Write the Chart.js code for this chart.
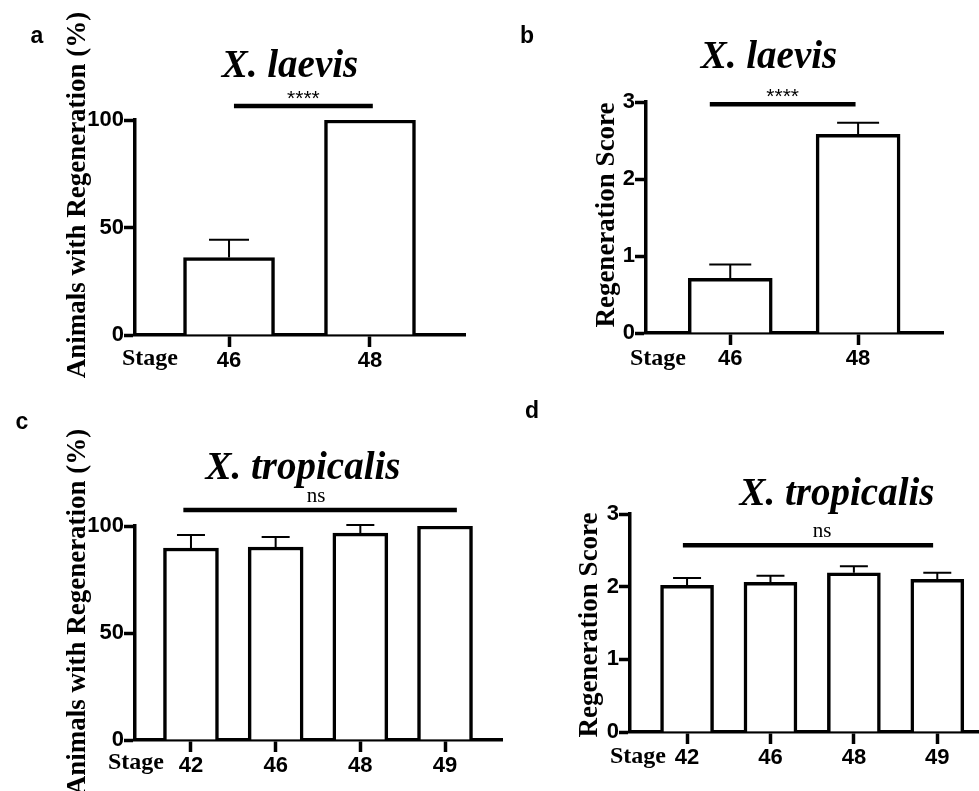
<!DOCTYPE html>
<html>
<head>
<meta charset="utf-8">
<script src="https://cdn.jsdelivr.net/npm/chart.js@4.4.0/dist/chart.umd.min.js"></script>
<style>
    html, body { margin: 0; padding: 0; background: #fff; }
    #fig { position: relative; width: 979px; height: 791px; overflow: hidden; }
    .panel { position: absolute; }
</style>
</head>
<body>
<div id="fig">
    <div class="panel" style="left:0;top:0"><canvas id="ca" width="490" height="390"></canvas></div>
    <div class="panel" style="left:490px;top:0"><canvas id="cb" width="489" height="390"></canvas></div>
    <div class="panel" style="left:0;top:390px"><canvas id="cc" width="510" height="401"></canvas></div>
    <div class="panel" style="left:490px;top:390px"><canvas id="cd" width="489" height="401"></canvas></div>
</div>
<script>
// data
const laevisStages = ['46', '48'];
const laevisPct = [36, 100];
const laevisPctErr = [8.3, 0];
const laevisScore = [0.71, 2.58];
const laevisScoreErr = [0.18, 0.15];

const tropStages = ['42', '46', '48', '49'];
const tropPct = [89.7, 90.2, 96.7, 100];
const tropPctErr = [6.1, 4.7, 3.8, 0];
const tropScore = [2.02, 2.06, 2.19, 2.10];
const tropScoreErr = [0.10, 0.09, 0.09, 0.09];

const pctTicks = [0, 50, 100];
const scoreTicks = [0, 1, 2, 3];

const SANS = '"Liberation Sans", Arial, sans-serif';
const SERIF = '"Liberation Serif", "Times New Roman", serif';

// error bars (up only) + significance bar
const errorBarPlugin = {
    id: 'errorBars',
    afterDatasetsDraw(chart, args, opts) {
        const ctx = chart.ctx;
        const y = chart.scales.y;
        const x = chart.scales.x;
        const meta = chart.getDatasetMeta(0);
        const vals = chart.data.datasets[0].data;
        ctx.save();
        ctx.strokeStyle = '#000';
        ctx.lineWidth = 2;
        opts.err.forEach((e, i) => {
            if (!e) return;
            const bx = meta.data[i].x;
            const top = y.getPixelForValue(vals[i].y);
            const et = y.getPixelForValue(vals[i].y + e);
            ctx.beginPath();
            ctx.moveTo(bx, top);
            ctx.lineTo(bx, et);
            ctx.moveTo(bx - opts.cap / 2, et);
            ctx.lineTo(bx + opts.cap / 2, et);
            ctx.stroke();
        });
        // significance
        const s = opts.sig;
        const sy = y.getPixelForValue(s.y);
        const x1 = x.getPixelForValue(s.from);
        const x2 = x.getPixelForValue(s.to);
        ctx.lineWidth = 4.5;
        ctx.beginPath();
        ctx.moveTo(x1, sy);
        ctx.lineTo(x2, sy);
        ctx.stroke();
        ctx.fillStyle = '#000';
        ctx.textAlign = 'center';
        ctx.textBaseline = 'alphabetic';
        if (s.text === 'ns') {
            ctx.font = '21px ' + SERIF;
            ctx.fillText(s.text, (x1 + x2) / 2 + (s.dx || 0), sy - 8);
        } else {
            ctx.font = '21px ' + SANS;
            ctx.fillText(s.text, (x1 + x2) / 2, sy - 1);
        }
        ctx.restore();
    }
};

// panel letter, title, axis title, "Stage"
const labelsPlugin = {
    id: 'panelLabels',
    afterDraw(chart, args, o) {
        const ctx = chart.ctx;
        ctx.save();
        ctx.fillStyle = '#000';
        ctx.textAlign = 'center';
        ctx.textBaseline = 'middle';
        ctx.font = 'bold 23px ' + SANS;
        ctx.fillText(o.letter, o.letterPos[0], o.letterPos[1]);

        ctx.textBaseline = 'alphabetic';
        ctx.font = 'italic bold 39px ' + SERIF;
        ctx.fillText(o.title, o.titlePos[0], o.titlePos[1]);

        ctx.textBaseline = 'middle';
        ctx.font = 'bold 24px ' + SERIF;
        ctx.fillText('Stage', o.stagePos[0], o.stagePos[1]);

        ctx.translate(o.yTitlePos[0], o.yTitlePos[1]);
        ctx.rotate(-Math.PI / 2);
        ctx.font = 'bold 27px ' + SERIF;
        ctx.fillText(o.yTitle, 0, 0);
        ctx.restore();
    }
};

function makePanel(id, p) {
    const canvas = document.getElementById(id);
    const W = canvas.width, H = canvas.height;
    const a = p.area;
    return new Chart(canvas, {
        type: 'bar',
        data: {
            datasets: [{
                data: p.values.map((v, i) => ({x: i, y: v})),
                backgroundColor: '#fff',
                borderColor: '#000',
                borderWidth: 3.5,
                barThickness: p.barWidth,
            }]
        },
        options: {
            responsive: false,
            animation: false,
            devicePixelRatio: 1,
            layout: {padding: {left: 0, top: a.top, right: W - a.right, bottom: 0}},
            plugins: {
                legend: {display: false},
                tooltip: {enabled: false},
                errorBars: {err: p.err, cap: p.cap, sig: p.sig},
                panelLabels: p.labels,
            },
            scales: {
                x: {
                    type: 'linear',
                    offset: false,
                    min: p.xMin,
                    max: p.values.length - 1 + p.xMaxPad,
                    afterBuildTicks: s => { s.ticks = p.stages.map((st, i) => ({value: i})); },
                    afterFit: s => { s.height = H - a.bottom; },
                    ticks: {
                        autoSkip: false, maxRotation: 0, padding: 1, color: '#000',
                        font: {family: SANS, size: 22, weight: 'bold'},
                        callback: v => p.stages[v],
                    },
                    grid: {offset: false, drawOnChartArea: false, drawTicks: true, tickLength: 12, tickWidth: 3.5, tickColor: '#000'},
                    border: {display: true, color: '#000', width: 3.5},
                },
                y: {
                    min: 0,
                    max: p.yTicks[p.yTicks.length - 1],
                    afterBuildTicks: s => { s.ticks = p.yTicks.map(v => ({value: v})); },
                    afterFit: s => { s.width = a.left; },
                    ticks: {
                        padding: 0, color: '#000',
                        font: {family: SANS, size: 22, weight: 'bold'},
                    },
                    grid: {drawOnChartArea: false, drawTicks: true, tickLength: 11, tickWidth: 3.5, tickColor: '#000'},
                    border: {display: true, color: '#000', width: 3.5},
                }
            }
        },
        plugins: [errorBarPlugin, labelsPlugin]
    });
}

makePanel('ca', {
    stages: laevisStages, values: laevisPct, err: laevisPctErr, yTicks: pctTicks,
    area: {left: 135, right: 465, top: 120, bottom: 335},
    xMin: -0.667, xMaxPad: 0.674, barWidth: 91, cap: 40,
    sig: {from: 0.035, to: 1.02, y: 106.5, text: '****'},
    labels: {letter: 'a', letterPos: [37, 37], title: 'X. laevis', titlePos: [290, 77],
        stagePos: [150, 359], yTitle: 'Animals with Regeneration (%)', yTitlePos: [78, 195]},
});

makePanel('cb', {
    stages: laevisStages, values: laevisScore, err: laevisScoreErr, yTicks: scoreTicks,
    area: {left: 156, right: 453, top: 102, bottom: 333},
    xMin: -0.659, xMaxPad: 0.664, barWidth: 84, cap: 42,
    sig: {from: -0.16, to: 0.98, y: 2.97, text: '****'},
    labels: {letter: 'b', letterPos: [37, 37], title: 'X. laevis', titlePos: [279, 68],
        stagePos: [168, 359], yTitle: 'Regeneration Score', yTitlePos: [117, 215]},
});

makePanel('cc', {
    stages: tropStages, values: tropPct, err: tropPctErr, yTicks: pctTicks,
    area: {left: 135, right: 502, top: 136, bottom: 350},
    xMin: -0.661, xMaxPad: 0.673, barWidth: 55, cap: 28,
    sig: {from: -0.09, to: 3.14, y: 107.5, text: 'ns', dx: -4},
    labels: {letter: 'c', letterPos: [22, 33], title: 'X. tropicalis', titlePos: [303, 89],
        stagePos: [136, 373], yTitle: 'Animals with Regeneration (%)', yTitlePos: [78, 222]},
});

makePanel('cd', {
    stages: tropStages, values: tropScore, err: tropScoreErr, yTicks: scoreTicks,
    area: {left: 140, right: 489, top: 124, bottom: 342},
    xMin: -0.684, xMaxPad: 0.50, barWidth: 53, cap: 28,
    sig: {from: -0.05, to: 2.95, y: 2.57, text: 'ns', dx: 14},
    labels: {letter: 'd', letterPos: [42, 22], title: 'X. tropicalis', titlePos: [347, 115],
        stagePos: [148, 367], yTitle: 'Regeneration Score', yTitlePos: [100, 235]},
});
</script>
</body>
</html>
